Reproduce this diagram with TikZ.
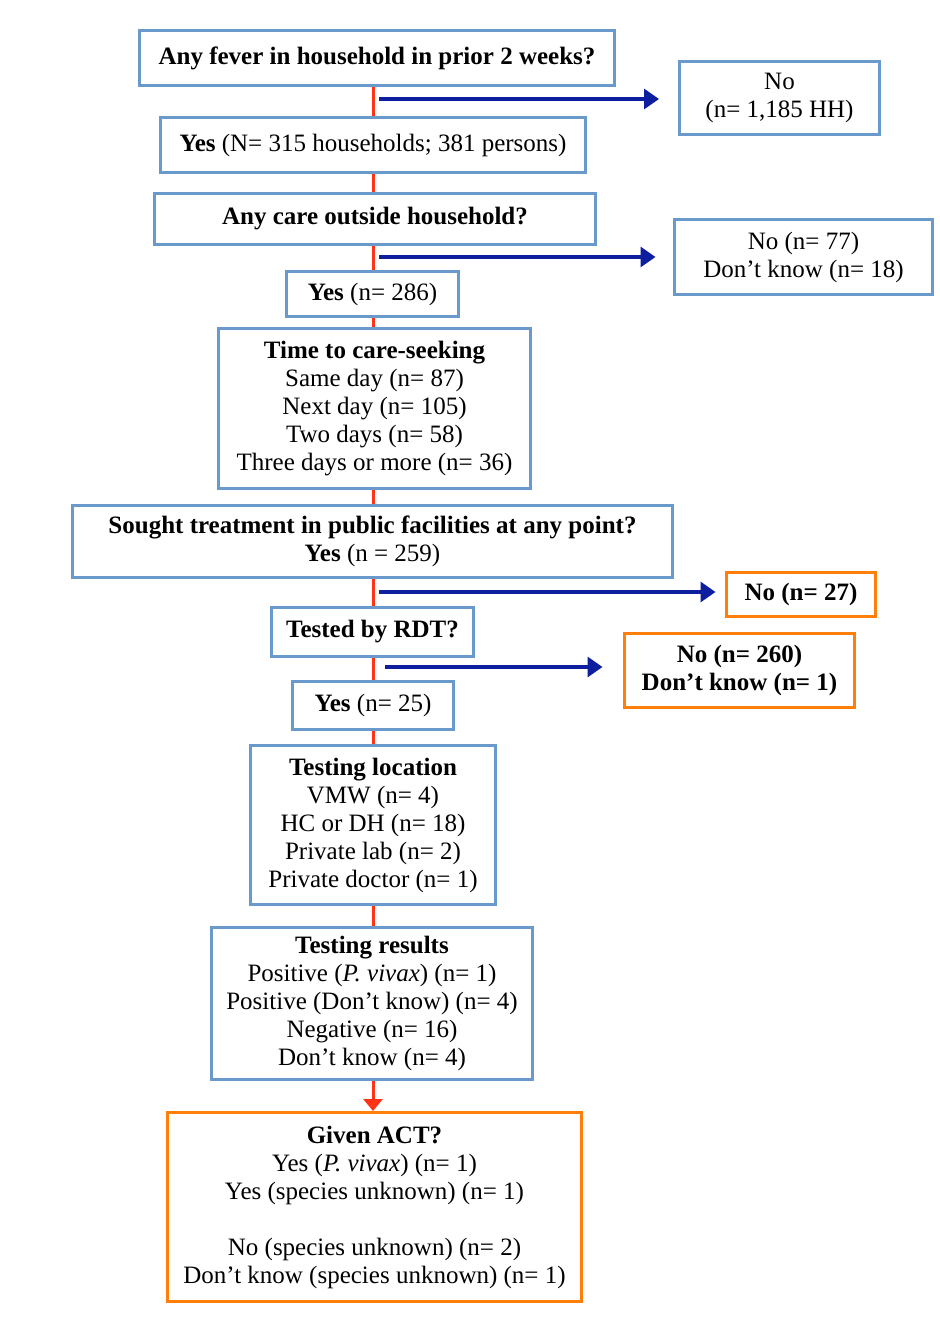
\documentclass[tikz,border=0pt]{standalone}
\usepackage{fontspec}
\setmainfont{Liberation Serif}
\usetikzlibrary{arrows.meta}
\definecolor{boxblue}{HTML}{6A99CC}
\definecolor{boxorange}{HTML}{FF7F0A}
\definecolor{spinered}{HTML}{FF3318}
\definecolor{arrowblue}{HTML}{0D1F9E}
\tikzset{
  box/.style={draw=boxblue, line width=1.5pt, fill=white, align=center, inner sep=0pt,
    font=\fontsize{12.5}{14}\selectfont},
  obox/.style={box, draw=boxorange, font=\fontsize{12.5}{14}\selectfont\bfseries},
  spine/.style={draw=spinered, line width=1.5pt},
  spinearrow/.style={spine, -{Triangle[width=9.5pt,length=6pt]}},
  bluearrow/.style={draw=arrowblue, line width=1.6pt, -{Triangle[width=10pt,length=7.5pt]}}
}
\begin{document}
\begin{tikzpicture}[x=0.5pt,y=-0.5pt]
\useasboundingbox[fill=white] (0,0) rectangle (940,1330);
\coordinate (sp) at (373,0);

\node[box, minimum width=237.5pt, minimum height=27.5pt] (q1) at (377,58)
  {\textbf{Any fever in household in prior 2 weeks?}};
\node[box, minimum width=100pt, minimum height=36.5pt] (no1) at (779.5,98)
  {No\\(n= 1,185 HH)};
\node[box, minimum width=212.5pt, minimum height=27.5pt] (y1) at (373,145)
  {\textbf{Yes} (N= 315 households; 381 persons)};
\node[box, minimum width=220.5pt, minimum height=25.5pt] (q2) at (375,219)
  {\textbf{Any care outside household?}};
\node[box, minimum width=129pt, minimum height=37.5pt] (no2) at (803.5,257)
  {No (n= 77)\\Don’t know (n= 18)};
\node[box, minimum width=86pt, minimum height=22.5pt] (y2) at (372.5,294)
  {\textbf{Yes} (n= 286)};
\node[box, minimum width=156pt, minimum height=80pt] (t1) at (374.5,408.5)
  {\textbf{Time to care-seeking}\\Same day (n= 87)\\Next day (n= 105)\\Two days (n= 58)\\Three days or more (n= 36)};
\node[box, minimum width=300pt, minimum height=36pt] (q3) at (372.5,541.5)
  {\textbf{Sought treatment in public facilities at any point?}\\\textbf{Yes} (n = 259)};
\node[obox, minimum width=74.5pt, minimum height=22pt] (no3) at (801,594.5)
  {No (n= 27)};
\node[box, minimum width=101pt, minimum height=24.5pt] (q4) at (372.5,632)
  {\textbf{Tested by RDT?}};
\node[obox, minimum width=115pt, minimum height=37pt] (no4) at (739.5,670.5)
  {No (n= 260)\\Don’t know (n= 1)};
\node[box, minimum width=80.5pt, minimum height=24pt] (y3) at (373,705.5)
  {\textbf{Yes} (n= 25)};
\node[box, minimum width=122.5pt, minimum height=79.5pt] (t2) at (373,825)
  {\textbf{Testing location}\\VMW (n= 4)\\HC or DH (n= 18)\\Private lab (n= 2)\\Private doctor (n= 1)};
\node[box, minimum width=160.5pt, minimum height=76pt] (t3) at (372,1003.5)
  {\textbf{Testing results}\\Positive (\textit{P. vivax}) (n= 1)\\Positive (Don’t know) (n= 4)\\Negative (n= 16)\\Don’t know (n= 4)};
\node[box, draw=boxorange, minimum width=207pt, minimum height=94.5pt] (act) at (374.5,1207)
  {\textbf{Given ACT?}\\Yes (\textit{P. vivax}) (n= 1)\\Yes (species unknown) (n= 1)\\[14pt]No (species unknown) (n= 2)\\Don’t know (species unknown) (n= 1)};

% red spine
\draw[spine] (q1.south -| sp) -- (y1.north -| sp);
\draw[spine] (y1.south -| sp) -- (q2.north -| sp);
\draw[spine] (q2.south -| sp) -- (y2.north -| sp);
\draw[spine] (y2.south -| sp) -- (t1.north -| sp);
\draw[spine] (t1.south -| sp) -- (q3.north -| sp);
\draw[spine] (q3.south -| sp) -- (q4.north -| sp);
\draw[spine] (q4.south -| sp) -- (y3.north -| sp);
\draw[spine] (y3.south -| sp) -- (t2.north -| sp);
\draw[spine] (t2.south -| sp) -- (t3.north -| sp);
\draw[spinearrow] (t3.south -| sp) -- (act.north -| sp);

% blue side arrows
\coordinate (b1) at (379,99);
\coordinate (b2) at (379,257);
\coordinate (b3) at (379,592);
\coordinate (b4) at (385,667);
\draw[bluearrow, shorten >=9.5pt] (b1) -- (b1 -| no1.west);
\draw[bluearrow, shorten >=8.75pt] (b2) -- (b2 -| no2.west);
\draw[bluearrow, shorten >=4.75pt] (b3) -- (b3 -| no3.west);
\draw[bluearrow, shorten >=10.25pt] (b4) -- (b4 -| no4.west);
\end{tikzpicture}
\end{document}
